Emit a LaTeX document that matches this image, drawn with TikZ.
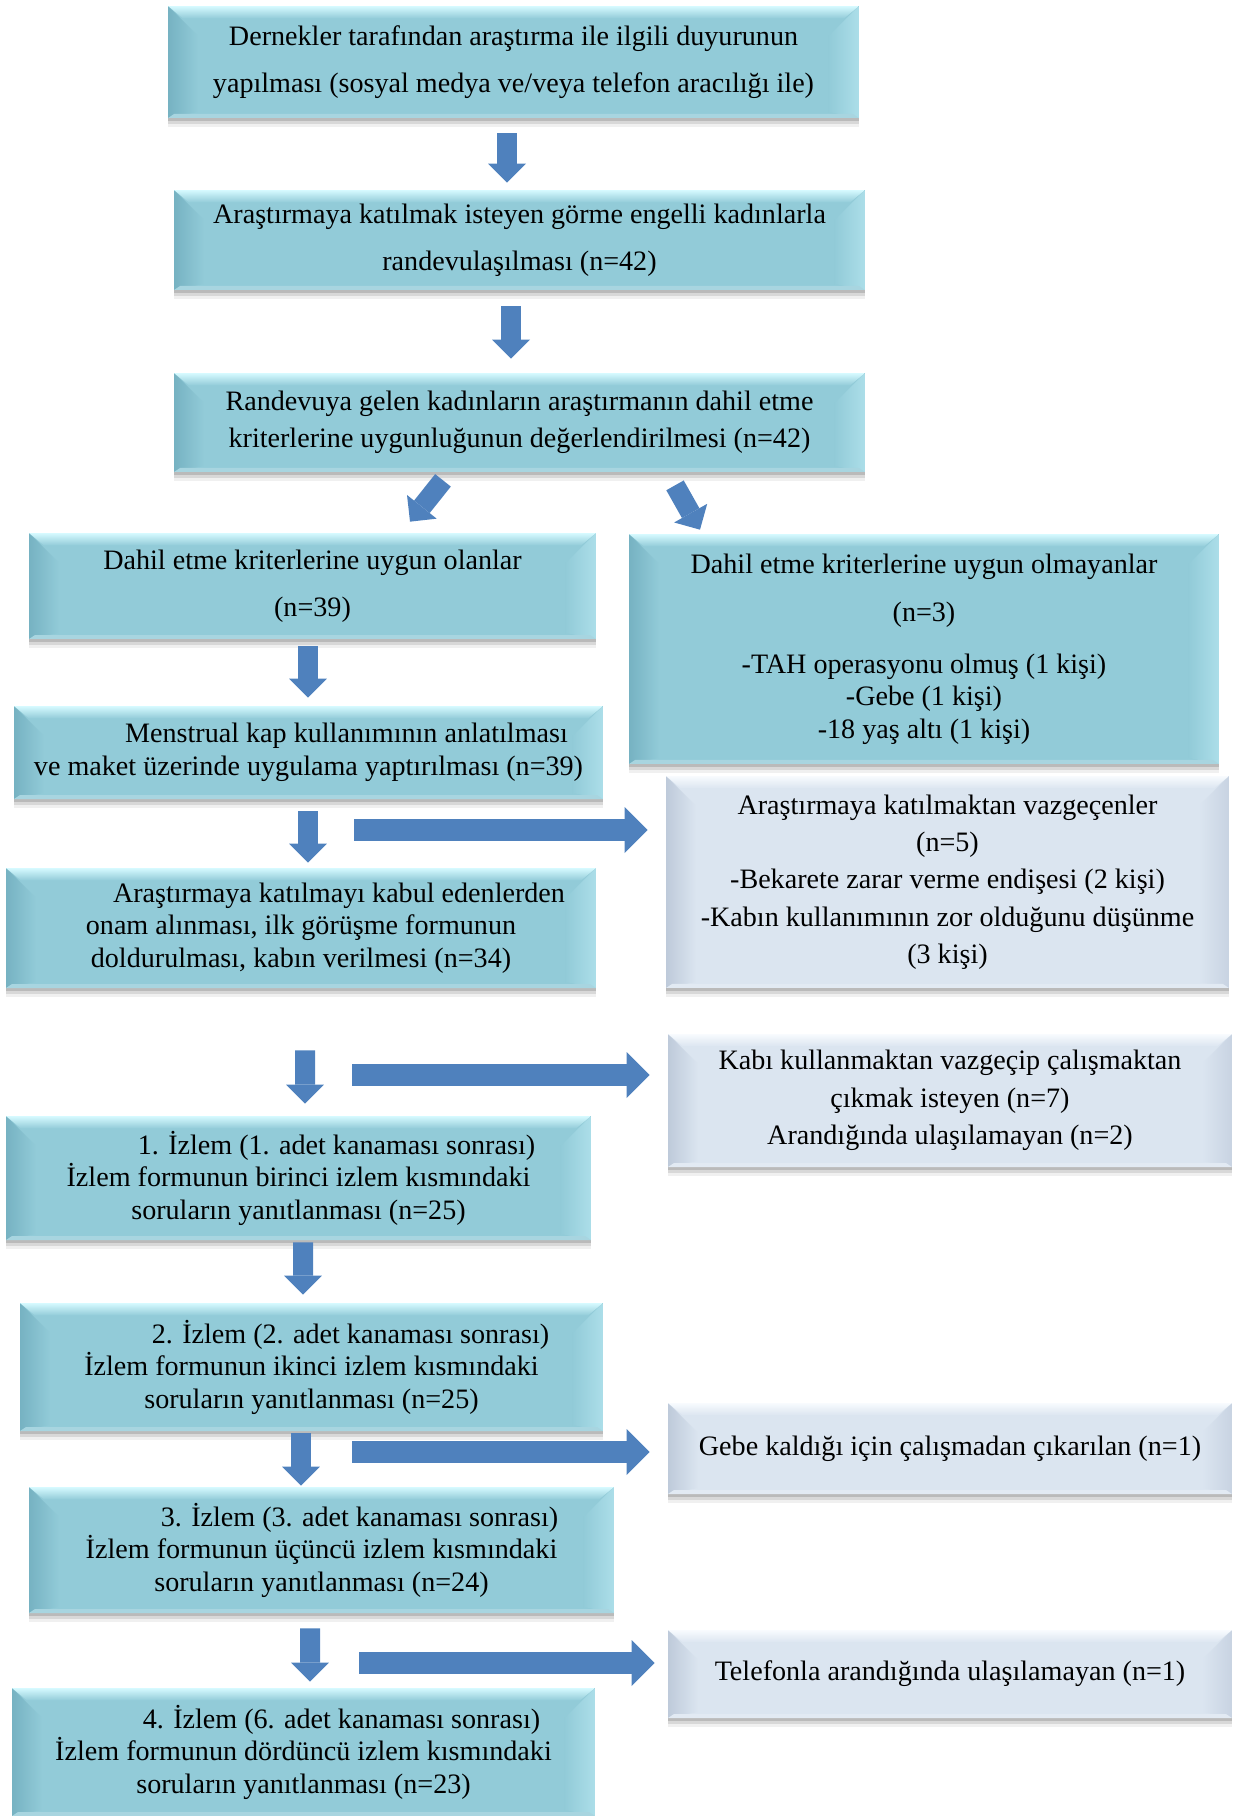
\documentclass[tikz,border=0pt]{standalone}
\usepackage{fontspec}
\setmainfont{Liberation Serif}
\usetikzlibrary{arrows.meta, calc, shadows}
\definecolor{boxblue}{RGB}{146,203,216}
\definecolor{boxbluehi}{RGB}{214,250,255}
\definecolor{boxblueleft}{RGB}{118,178,194}
\definecolor{boxblueright}{RGB}{172,222,233}
\definecolor{boxgrey}{RGB}{219,229,240}
\definecolor{boxgreyhi}{RGB}{248,251,254}
\definecolor{boxgreyleft}{RGB}{190,202,218}
\definecolor{boxgreyright}{RGB}{200,211,226}
\definecolor{arrowblue}{RGB}{79,129,189}

\begin{document}
\begin{tikzpicture}
  [x=0.02cm, y=-0.02cm,
   font=\fontsize{16}{18.5}\selectfont,
   bevel/.style n args={4}{fill=#1, inner sep=0pt, align=center,
     drop shadow={shadow xshift=0cm, shadow yshift=-0.18cm, opacity=.06, fill=black},
     drop shadow={shadow xshift=0cm, shadow yshift=-0.12cm, opacity=.1, fill=black},
     drop shadow={shadow xshift=0cm, shadow yshift=-0.06cm, opacity=.14, fill=black},
     path picture={
       \path (path picture bounding box.north west) coordinate (pnw)
             (path picture bounding box.north east) coordinate (pne)
             (path picture bounding box.south west) coordinate (psw)
             (path picture bounding box.south east) coordinate (pse);
       \fill[left color=#3, right color=#1] (pnw) -- ++(0.6cm,-0.6cm) -- ($(psw)+(0.6cm,0.12cm)$) -- (psw) -- cycle;
       \fill[left color=#1, right color=#4] (pne) -- ++(-0.6cm,-0.6cm) -- ($(pse)+(-0.6cm,0.12cm)$) -- (pse) -- cycle;
       \fill[top color=#2, bottom color=#1] (pnw) -- (pne) -- ++(-0.3cm,-0.25cm) -- ($(pnw)+(0.3cm,-0.25cm)$) -- cycle;
       \fill[#1!80!white] (psw) -- (pse) -- ++(-0.12cm,0.08cm) -- ($(psw)+(0.12cm,0.08cm)$) -- cycle;
     }},
   bluebox/.style={bevel={boxblue}{boxbluehi}{boxblueleft}{boxblueright}},
   greybox/.style={bevel={boxgrey}{boxgreyhi}{boxgreyleft}{boxgreyright}},
   downflow/.style={draw=arrowblue, line width=0.4cm,
     -{Triangle[width=0.76cm, length=0.38cm, line width=0pt]}},
   sideflow/.style={draw=arrowblue, line width=0.44cm,
     -{Triangle[width=0.92cm, length=0.46cm, line width=0pt]}}]
  \useasboundingbox (0,0) rectangle (1239,1816);

  % main column
  \node (duyuru) [bluebox, minimum width=13.82cm, minimum height=2.24cm] at (513.5,62)
    {Dernekler tarafından araştırma ile ilgili duyurunun\\[8.5pt]
     yapılması (sosyal medya ve/veya telefon aracılığı ile)};
  \node (randevu) [bluebox, minimum width=13.82cm, minimum height=2cm] at (519.5,240)
    {Araştırmaya katılmak isteyen görme engelli kadınlarla\\[8.5pt]
     randevulaşılması (n=42)};
  \node (uygunluk) [bluebox, minimum width=13.82cm, minimum height=1.98cm] at (519.5,422.5)
    {Randevuya gelen kadınların araştırmanın dahil etme\\[2.5pt]
     kriterlerine uygunluğunun değerlendirilmesi (n=42)};
  \node (uygun) [bluebox, minimum width=11.34cm, minimum height=2.12cm] at (312.5,586)
    {Dahil etme kriterlerine uygun olanlar\\[8.5pt] (n=39)};
  \node (egitim) [bluebox, minimum width=11.78cm, minimum height=1.86cm] at (308.5,752.5)
    {\hspace*{1.52cm}Menstrual kap kullanımının anlatılması\\
     ve maket üzerinde uygulama yaptırılması (n=39)};
  \node (onam) [bluebox, minimum width=11.8cm, minimum height=2.4cm] at (301,928)
    {\hspace*{1.52cm}Araştırmaya katılmayı kabul edenlerden\\
     onam alınması, ilk görüşme formunun\\
     doldurulması, kabın verilmesi (n=34)};
  \node (izlem1) [bluebox, minimum width=11.7cm, minimum height=2.48cm] at (298.5,1178)
    {\hspace*{1.52cm}1. İzlem (1. adet kanaması sonrası)\\
     İzlem formunun birinci izlem kısmındaki\\
     soruların yanıtlanması (n=25)};
  \node (izlem2) [bluebox, minimum width=11.66cm, minimum height=2.56cm] at (311.5,1367)
    {\hspace*{1.56cm}2. İzlem (2. adet kanaması sonrası)\\
     İzlem formunun ikinci izlem kısmındaki\\
     soruların yanıtlanması (n=25)};
  \node (izlem3) [bluebox, minimum width=11.7cm, minimum height=2.52cm] at (321.5,1550)
    {\hspace*{1.52cm}3. İzlem (3. adet kanaması sonrası)\\
     İzlem formunun üçüncü izlem kısmındaki\\
     soruların yanıtlanması (n=24)};
  \node (izlem4) [bluebox, minimum width=11.66cm, minimum height=2.56cm] at (303.5,1752)
    {\hspace*{1.52cm}4. İzlem (6. adet kanaması sonrası)\\
     İzlem formunun dördüncü izlem kısmındaki\\
     soruların yanıtlanması (n=23)};

  % side boxes
  \node (uygundegil) [bluebox, minimum width=11.8cm, minimum height=4.6cm] at (924,649)
    {Dahil etme kriterlerine uygun olmayanlar\\[9pt]
     (n=3)\\[11pt]
     -TAH operasyonu olmuş (1 kişi)\\
     -Gebe (1 kişi)\\
     -18 yaş altı (1 kişi)};
  \node (vazgecen) [greybox, minimum width=11.26cm, minimum height=4.24cm] at (947.5,882)
    {Araştırmaya katılmaktan vazgeçenler\\[2.7pt]
     (n=5)\\[2.7pt]
     -Bekarete zarar verme endişesi (2 kişi)\\[2.7pt]
     -Kabın kullanımının zor olduğunu düşünme\\[2.7pt]
     (3 kişi)};
  \node (ayrilan) [greybox, minimum width=11.28cm, minimum height=2.66cm] at (950,1100.5)
    {Kabı kullanmaktan vazgeçip çalışmaktan\\[2.7pt]
     çıkmak isteyen (n=7)\\[2.7pt]
     Arandığında ulaşılamayan (n=2)};
  \node (gebe) [greybox, minimum width=11.28cm, minimum height=1.82cm] at (950,1448.5)
    {Gebe kaldığı için çalışmadan çıkarılan (n=1)};
  \node (telefon) [greybox, minimum width=11.28cm, minimum height=1.76cm] at (950,1674)
    {Telefonla arandığında ulaşılamayan (n=1)};

  % tails of the side arrows
  \coordinate (cikis1) at (354,830);
  \coordinate (cikis2) at (352,1075);
  \coordinate (cikis3) at (352,1452);
  \coordinate (cikis4) at (359,1663);

  % flow
  \draw [downflow] ($(duyuru.south)+(-6.5,15)$) -- ($(randevu.north)+(-12.5,-7)$);
  \draw [downflow] ($(randevu.south)+(-8.5,16)$) -- ($(uygunluk.north)+(-8.5,-14)$);
  \draw [downflow] ($(uygunluk.south)+(-76.5,8)$) -- ($(uygun.north)+(97.5,-11)$);
  \draw [downflow] ($(uygunluk.south)+(155.5,13)$) -- ($(uygundegil.north)+(-224,-4)$);
  \draw [downflow] ($(uygun.south)+(-4.5,7)$) -- ($(egitim.north)+(-0.5,-8)$);
  \draw [downflow] ($(egitim.south)+(-0.5,12)$) -- ($(onam.north)+(7,-5)$);
  \draw [downflow] ($(onam.south)+(4,62)$) -- ($(izlem1.north)+(6.5,-12)$);
  \draw [downflow] ($(izlem1.south)+(4.5,2)$) -- ($(izlem2.north)+(-8.5,-8)$);
  \draw [downflow] ($(izlem2.south)+(-10.5,2)$) -- ($(izlem3.north)+(-20.5,-1)$);
  \draw [downflow] ($(izlem3.south)+(-11.5,15)$) -- ($(izlem4.north)+(6.5,-6)$);

  \draw [sideflow, shorten >=0.36cm] (cikis1) -- (cikis1 -| vazgecen.west);
  \draw [sideflow, shorten >=0.36cm] (cikis2) -- (cikis2 -| ayrilan.west);
  \draw [sideflow, shorten >=0.36cm] (cikis3) -- (cikis3 -| gebe.west);
  \draw [sideflow, shorten >=0.26cm] (cikis4) -- (cikis4 -| telefon.west);
\end{tikzpicture}
\end{document}
